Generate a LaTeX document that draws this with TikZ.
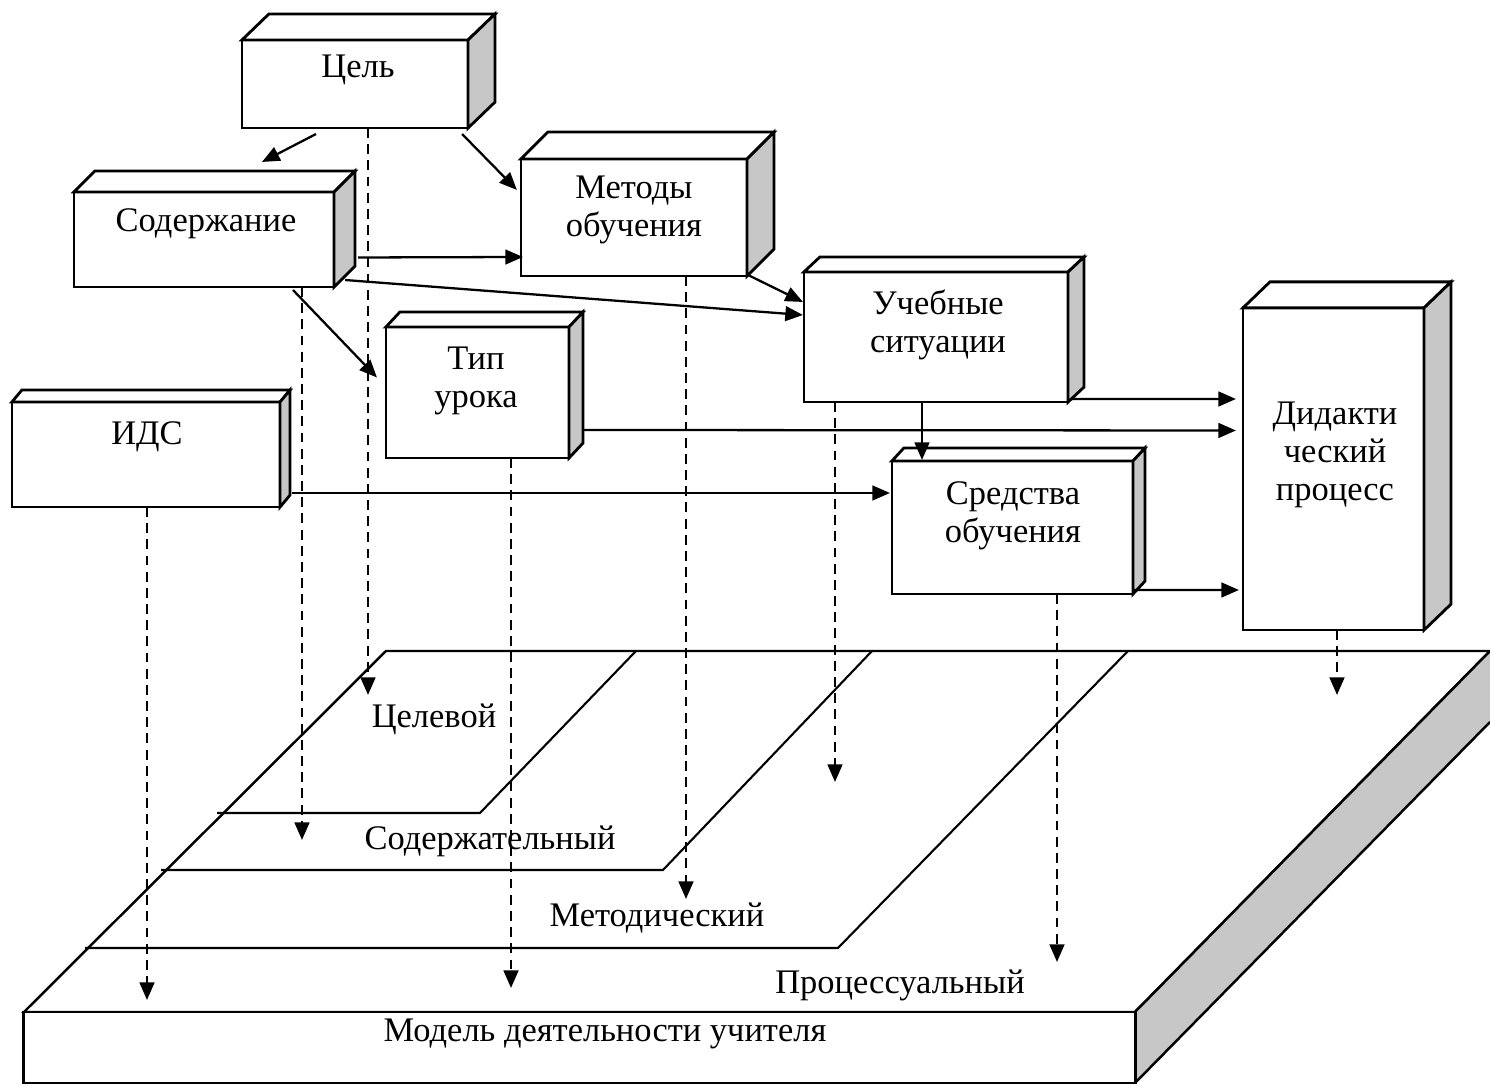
\documentclass[tikz,border=0pt]{standalone}
\usepackage{fontspec}
\setmainfont{Liberation Serif}
\usetikzlibrary{arrows.meta}

% top and side of a box node: name, depth x, depth y
\newcommand{\kubik}[3]{%
  \draw[line width=0.8pt, fill=white] (#1.north west) -- ++(#2,-#3) -- ([shift={(#2,-#3)}]#1.north east) -- (#1.north east) -- cycle;
  \draw[line width=0.8pt, fill=black!22] (#1.north east) -- ([shift={(#2,-#3)}]#1.north east) -- ([shift={(#2,-#3)}]#1.south east) -- (#1.south east) -- cycle;
}

\begin{document}
\begin{tikzpicture}[x=0.01cm, y=-0.01cm,
    blok/.style ={rectangle, draw, line width=0.8pt, fill=white, inner sep=0pt, outer sep=0pt},
    nadpis/.style ={font=\fontsize{9.8}{10.8}\selectfont, align=center, inner sep=0pt, yshift=-0.035cm},
    strelka/.style ={-{Triangle[length=5pt,width=4.2pt]}, line width=0.65pt},
    punktir/.style ={strelka, dash pattern=on 2.8pt off 1.8pt},
    plita/.style ={line width=0.7pt}]
   \useasboundingbox (0,0) rectangle (1490,1086);

   % platform
   \coordinate (pBL) at (24,1012);
   \coordinate (pTL) at (386,651);
   \coordinate (pTR) at (1490,651);
   \coordinate (pBR) at (1135,1012);
   \draw[plita, fill=white] (pBL) -- (pTL) -- (pTR) -- (pBR) -- cycle;
   \fill[black!22] (pBR) -- (pTR) -- (1490,722) -- (1135,1083) -- cycle;
   \draw[plita] (pBR) -- (pTR);
   \draw[plita] (1490,722) -- (1135,1083);
   \node[blok, plita, minimum width=11.11cm, minimum height=0.71cm] (osnova) at (579.5,1047.5) {};

   % layers
   \draw[line width=0.6pt] (636,651) -- (480,813) -- (217,813);
   \draw[line width=0.6pt] (872,651) -- (663,870) -- (161,870);
   \draw[line width=0.6pt] (1128,651) -- (838,948) -- (85,948);

   \node[nadpis] (lCel) at (434,716) {Целевой};
   \node[nadpis] (lSod) at (490,838) {Содержательный};
   \node[nadpis] (lMet) at (657,915) {Методический};
   \node[nadpis] (lPro) at (900,982) {Процессуальный};
   \node[nadpis] (lMod) at (605,1030) {Модель деятельности учителя};

   % boxes
   \node[blok, minimum width=2.26cm, minimum height=0.88cm] (cel) at (355,84) {};
   \kubik{cel}{27}{26}
   \node[nadpis] (celT) at (358,66) {Цель};

   \node[blok, minimum width=2.60cm, minimum height=0.95cm] (sod) at (204,239.5) {};
   \kubik{sod}{21}{21}
   \node[nadpis] (sodT) at (206,220) {Содержание};

   \node[blok, minimum width=2.26cm, minimum height=1.17cm] (met) at (634,217.5) {};
   \kubik{met}{27}{27}
   \node[nadpis] (metT) at (634,206) {Методы\\обучения};

   \node[blok, minimum width=2.64cm, minimum height=1.30cm] (uch) at (936,337) {};
   \kubik{uch}{16}{15}
   \node[nadpis] (uchT) at (938,321) {Учебные\\ситуации};

   \node[blok, minimum width=1.83cm, minimum height=1.31cm] (tip) at (477.5,392.5) {};
   \kubik{tip}{14}{15}
   \node[nadpis] (tipT) at (476,377) {Тип\\урока};

   \node[blok, minimum width=2.68cm, minimum height=1.05cm] (ids) at (146,454.5) {};
   \kubik{ids}{10}{12}
   \node[nadpis] (idsT) at (147,433) {ИДС};

   \node[blok, minimum width=2.41cm, minimum height=1.33cm] (sre) at (1012.5,527.5) {};
   \kubik{sre}{12}{13}
   \node[nadpis] (sreT) at (1013,512) {Средства\\обучения};

   \node[blok, minimum width=1.81cm, minimum height=3.22cm] (did) at (1333.5,469) {};
   \kubik{did}{27}{26}
   \node[nadpis] (didT) at (1335,451) {Дидакти\\ческий\\процесс};

   % dashed links down to the layers
   \coordinate (celL) at (368,695);
   \coordinate (sodL) at (302,840);
   \coordinate (idsL) at (147,1000);
   \coordinate (tipL) at (511,988);
   \coordinate (metL) at (686,899);
   \coordinate (uchL) at (835,782);
   \coordinate (sreL) at (1057,962);
   \coordinate (didL) at (1337,695);
   \foreach \b in {cel, sod, ids, tip, met, uch, sre, did}
     \draw[punktir] (\b.south -| \b L) -- (\b L);

   % solid links
   \draw[strelka] ([shift={(-39,6)}]cel.south) -- ([shift={(58,-30)}]sod.north);
   \draw[strelka] ([shift={(-6,6)}]cel.south east) -- ([shift={(-4,31)}]met.north west);
   \draw[strelka] ([shift={(24,18)}]sod.east) -- ([shift={(2,39.5)}]met.west);
   \draw[strelka] ([shift={(11,-7)}]sod.south east) -- ([shift={(-1,-22)}]uch.west);
   \draw[strelka] ([shift={(89,3)}]sod.south) -- ([shift={(-9,-15)}]tip.west);
   \draw[strelka] ([shift={(1,-1)}]met.south east) -- ([shift={(-1,30)}]uch.north west);
   \draw[strelka] ([shift={(-14,0)}]uch.south) -- ([shift={(-90.5,-1)}]sre.north);
   \draw[strelka] ([shift={(2,-3)}]uch.south east) -- ([shift={(-7,-70)}]did.west);
   \draw[strelka] ([shift={(14,37.5)}]tip.east) -- ([shift={(-7,-38.5)}]did.west);
   \draw[strelka] ([shift={(12,38.5)}]ids.east) -- ([shift={(-2,-34.5)}]sre.west);
   \draw[strelka] ([shift={(0,-4)}]sre.south east) -- ([shift={(-4,121)}]did.west);
\end{tikzpicture}
\end{document}
